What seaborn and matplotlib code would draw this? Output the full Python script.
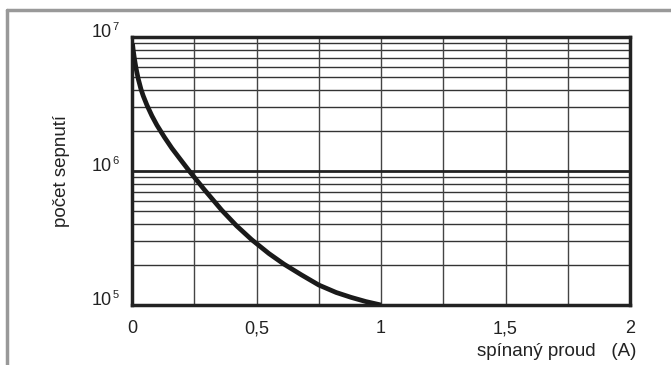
import numpy as np
import matplotlib
matplotlib.use('Agg')
import matplotlib.pyplot as plt
from matplotlib.lines import Line2D
from matplotlib.ticker import LogLocator, NullFormatter
import seaborn as sns

# values (x in A, y = number of switchings)
current = [0.002, 0.005, 0.01, 0.016, 0.025, 0.036, 0.045, 0.06, 0.08, 0.10, 0.13, 0.16, 0.19,
           0.23, 0.29, 0.36, 0.42, 0.48, 0.55, 0.61, 0.68, 0.75, 0.82, 0.88, 0.94, 1.0]
cycles = [8.91e6, 7.94e6, 6.84e6, 5.87e6, 4.88e6, 4.08e6, 3.64e6, 3.10e6, 2.58e6, 2.20e6, 1.79e6,
          1.48e6, 1.25e6, 1.0e6, 7.28e5, 5.11e5, 3.90e5, 3.08e5, 2.42e5, 2.02e5, 1.68e5, 1.41e5,
          1.24e5, 1.14e5, 1.06e5, 1.0e5]

xticks = [0, 0.5, 1, 1.5, 2]
xtick_labels = ['0', '0,5', '1', '1,5', '2']
yticks = [1e5, 1e6, 1e7]
ytick_exps = ['5', '6', '7']

sns.set_style('white')
plt.rcParams['font.family'] = ['Liberation Sans', 'DejaVu Sans']

fig = plt.figure(figsize=(6.71, 3.65), dpi=100)
ax = fig.add_axes([132 / 671, 60 / 365, 498 / 671, 268 / 365])

# grey frame of the picture (top and left edge only visible)
fig.add_artist(Line2D([7 / 671, 1.0], [1 - 10 / 365, 1 - 10 / 365], color='#999999', lw=2.5))
fig.add_artist(Line2D([7 / 671, 7 / 671], [0.0, 1 - 10 / 365], color='#999999', lw=2.5))

ax.set_yscale('log')
ax.set_xlim(0, 2)
ax.set_ylim(1e5, 1e7)

# grid
for xv in np.arange(0.25, 2.0, 0.25):
    ax.axvline(xv, color='#444444', lw=1.0, zorder=1)
ax.yaxis.set_minor_locator(LogLocator(base=10, subs=np.arange(2, 10)))
ax.yaxis.set_minor_formatter(NullFormatter())
ax.grid(which='minor', axis='y', color='#333333', lw=1.0)
ax.axhline(1e6, color='#222222', lw=2.0, zorder=2)

sns.lineplot(x=current, y=cycles, ax=ax, color='#1a1a1a', lw=3.4, zorder=5,
             solid_joinstyle='round', solid_capstyle='butt')

ax.set_xticks(xticks)
ax.set_xticklabels(xtick_labels, fontsize=13, color='#222222')
ax.set_yticks(yticks)
ax.set_yticklabels(['10'] * len(yticks), fontsize=13, color='#222222', va='baseline')
ax.tick_params(axis='x', length=0, pad=11)
ax.tick_params(axis='y', which='major', length=3, width=2, color='#222222', pad=11.5)
ax.tick_params(axis='y', which='minor', length=0)

# small exponents next to the "10" labels
for v, e in zip(yticks, ytick_exps):
    ax.annotate(e, xy=(0, v), xycoords=('axes fraction', 'data'), xytext=(-14.2, 5),
                textcoords='offset points', fontsize=8, color='#222222',
                ha='left', va='baseline', annotation_clip=False)

for s in ax.spines.values():
    s.set_visible(True)
    s.set_linewidth(2.5)
    s.set_color('#222222')

ax.set_ylabel('počet sepnutí', fontsize=13.5, color='#222222')
ax.yaxis.set_label_coords(-62 / 498, 0.5)
fig.text(636 / 671, 13 / 365, 'spínaný proud   (A)', ha='right', va='center',
         fontsize=13.5, color='#222222')

fig.savefig('out.png', dpi=100)
